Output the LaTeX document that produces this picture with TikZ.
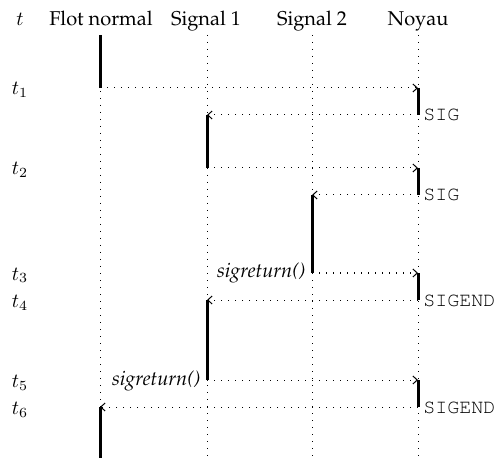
\documentclass[tikz,border=0pt]{standalone}
\usepackage[T1]{fontenc}
\usepackage{palatino}
\usetikzlibrary{arrows.meta}
\begin{document}
\begin{tikzpicture}[x=0.5pt,y=-0.5pt,
  life/.style={line width=0.5pt, dash pattern=on 0.5pt off 3pt},
  active/.style={line width=1.5pt},
  msg/.style={line width=0.5pt, dash pattern=on 0.5pt off 3pt, -{Straight Barb[length=2.2pt,width=4pt]}},
  head/.style={inner sep=0pt, anchor=base},
  tlab/.style={inner sep=0pt, anchor=base},
  sig/.style={inner sep=0pt, anchor=base west, font=\ttfamily},
  ret/.style={inner sep=0pt, anchor=base east, font=\itshape}]
\useasboundingbox (0,0) rectangle (501,458);
\fill[white] (0,0) rectangle (501,458);
% headers
\node[head] (ht) at (20,26) {$t$};
\node[head] (hF) at (101,26) {Flot normal};
\node[head] (hA) at (206,26) {Signal 1};
\node[head] (hB) at (312,26) {Signal 2};
\node[head] (hN) at (418,26) {Noyau};
% lifeline ends
\coordinate (Ftop) at (100,35); \coordinate (Fbot) at (100,458);
\coordinate (Atop) at (207,35); \coordinate (Abot) at (207,458);
\coordinate (Btop) at (312,35); \coordinate (Bbot) at (312,458);
\coordinate (Ntop) at (418,35); \coordinate (Nbot) at (418,458);
% events
\coordinate (F1) at (100,88);  \coordinate (N1) at (418,88);
\coordinate (N2) at (418,115); \coordinate (A2) at (207,115);
\coordinate (A3) at (207,168); \coordinate (N3) at (418,168);
\coordinate (N4) at (418,195); \coordinate (B4) at (312,195);
\coordinate (B5) at (312,273); \coordinate (N5) at (418,273);
\coordinate (N6) at (418,300); \coordinate (A6) at (207,300);
\coordinate (A7) at (207,380); \coordinate (N7) at (418,380);
\coordinate (N8) at (418,407); \coordinate (F8) at (100,407);
% lifelines
\draw[life] (Ftop) -- (Fbot);
\draw[life] (Atop) -- (Abot);
\draw[life] (Btop) -- (Bbot);
\draw[life] (Ntop) -- (Nbot);
% activity
\draw[active] (Ftop) -- (F1);
\draw[active] (N1) -- (N2);
\draw[active] (A2) -- (A3);
\draw[active] (N3) -- (N4);
\draw[active] (B4) -- (B5);
\draw[active] (N5) -- (N6);
\draw[active] (A6) -- (A7);
\draw[active] (N7) -- (N8);
\draw[active] (F8) -- (Fbot);
% messages
\draw[msg] (F1) -- (N1);
\draw[msg] (N2) -- (A2);
\draw[msg] (A3) -- (N3);
\draw[msg] (N4) -- (B4);
\draw[msg] (B5) -- (N5);
\draw[msg] (N6) -- (A6);
\draw[msg] (A7) -- (N7);
\draw[msg] (N8) -- (F8);
% time labels
\node[tlab] (t1) at (20,95) {$t_1$};
\node[tlab] (t2) at (20,175) {$t_2$};
\node[tlab] (t3) at (20,280) {$t_3$};
\node[tlab] (t4) at (20,307) {$t_4$};
\node[tlab] (t5) at (20,387) {$t_5$};
\node[tlab] (t6) at (20,414) {$t_6$};
% kernel labels
\node[sig] (s1) at (423,121) {SIG};
\node[sig] (s2) at (423,201) {SIG};
\node[sig] (s3) at (423,306) {SIGEND};
\node[sig] (s4) at (423,413) {SIGEND};
% sigreturn labels
\node[ret] (r1) at (306,278) {sigreturn()};
\node[ret] (r2) at (201,385) {sigreturn()};
\end{tikzpicture}
\end{document}
